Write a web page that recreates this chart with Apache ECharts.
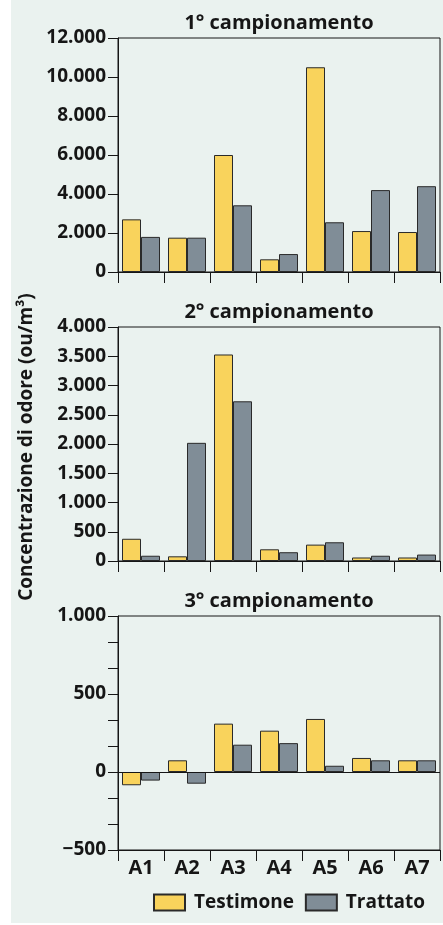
<!DOCTYPE html>
<html>
<head>
<meta charset="utf-8">
<script src="https://cdn.jsdelivr.net/npm/echarts@6/dist/echarts.min.js"></script>
<style>
html,body{margin:0;padding:0;background:#ffffff;}
#c{width:443px;height:925px;}
</style>
</head>
<body>
<div id="c"></div>
<script>
const categories = ['A1','A2','A3','A4','A5','A6','A7'];
const seriesNames = ['Testimone','Trattato'];
const titles = ['1° campionamento','2° campionamento','3° campionamento'];
const yAxisTitle = 'Concentrazione di odore (ou/m³)';

const testimone1 = [2700,1760,6000,650,10500,2100,2050];
const trattato1  = [1800,1760,3420,920,2550,4200,4400];
const testimone2 = [380,80,3530,200,280,60,60];
const trattato2  = [90,2020,2730,150,320,90,110];
const testimone3 = [-85,75,310,265,340,90,75];
const trattato3  = [-55,-75,175,185,40,75,75];

const yMin = [0,0,-500];
const yMax = [12000,4000,1000];
const yStep = [2000,500,500];

const FONT = '"Open Sans", sans-serif';
const INK = '#161616';
const BG = '#eaf2ef';
const YELLOW = '#f9d35c';
const GRAY = '#808d97';

function fmt(v){
  const r = Math.round(v);
  const s = String(Math.abs(r)).replace(/\B(?=(\d{3})+(?!\d))/g,'.');
  return (r < 0 ? '\u2212' : '') + s;
}

const gridTops = [38,327,616];
const grids = gridTops.map(t => ({left:118, right:3, top:t, height:234, show:true, borderColor:INK, borderWidth:1, backgroundColor:'transparent'}));

const xAxes = gridTops.map((t,i) => ({
  type:'category', gridIndex:i, data:categories,
  axisLine:{show:true, onZero:i<2, lineStyle:{color:INK,width:1}},
  axisTick:{show:true, length:11, lineStyle:{color:INK,width:1}},
  axisLabel:{show:i===2, margin:8, color:INK, fontFamily:FONT, fontWeight:'bold', fontSize:20},
  splitLine:{show:false}
}));

const yAxes = gridTops.map((t,i) => ({
  type:'value', gridIndex:i, min:yMin[i], max:yMax[i], interval:yStep[i],
  axisLine:{show:true, lineStyle:{color:INK,width:1}},
  axisTick:{show:true, length:10, lineStyle:{color:INK,width:1}},
  minorTick: i===2 ? {show:true, splitNumber:3, length:10, lineStyle:{color:INK,width:1}} : {show:false},
  axisLabel:{margin:12, color:INK, fontFamily:FONT, fontWeight:'bold', fontSize:19, formatter:fmt},
  splitLine:{show:false}
}));

const dataSets = [[testimone1,trattato1],[testimone2,trattato2],[testimone3,trattato3]];
const colors = [YELLOW, GRAY];
const series = [];
dataSets.forEach((pair,gi) => {
  pair.forEach((vals,si) => {
    const s = {
      type:'bar', name:seriesNames[si], xAxisIndex:gi, yAxisIndex:gi,
      data:vals, barWidth:19, barGap:'0%',
      itemStyle:{color:colors[si], borderColor:'#2a2a2a', borderWidth:1},
      emphasis:{disabled:true}, animation:false
    };
    if (gi===2 && si===0) {
      s.markLine = {silent:true, symbol:'none', animation:false,
        label:{show:false}, lineStyle:{color:INK, type:'solid', width:1},
        data:[{yAxis:0}]};
    }
    series.push(s);
  });
});

const chart = echarts.init(document.getElementById('c'), null, {renderer:'canvas'});
chart.setOption({
  animation:false,
  backgroundColor:'#ffffff',
  graphic:[
    {type:'rect', z:-10, silent:true, shape:{x:11,y:0,width:432,height:923}, style:{fill:BG}},
    {type:'text', silent:true, x:27, y:447, rotation:Math.PI/2,
      style:{text:yAxisTitle, fill:INK, font:'bold 19px "Open Sans", sans-serif', align:'center', verticalAlign:'middle'}}
  ],
  title: titles.map((t,i) => ({
    text:t, left:279, top:gridTops[i]-25, textAlign:'center',
    textStyle:{fontFamily:FONT, fontWeight:'bold', fontSize:20, color:INK}, padding:0
  })),
  legend:{
    data:seriesNames, left:148, top:888, itemWidth:31, itemHeight:16, itemGap:11, icon:'rect',
    textStyle:{fontFamily:FONT, fontWeight:'bold', fontSize:19, color:INK, padding:[0,0,0,4]},
    selectedMode:false
  },
  grid:grids, xAxis:xAxes, yAxis:yAxes, series:series
});
</script>
</body>
</html>
